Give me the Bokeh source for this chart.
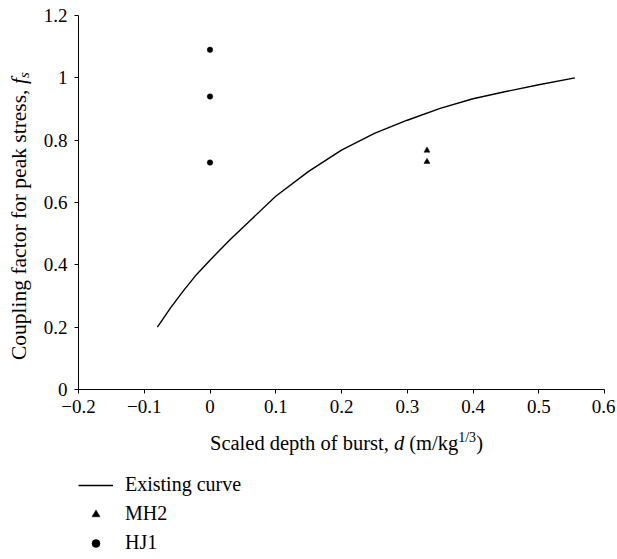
from bokeh.plotting import figure
from bokeh.models import Range1d, FixedTicker, Legend, LegendItem, Div
from bokeh.layouts import column, row
from bokeh.embed import file_html
from bokeh.resources import INLINE

# ---- data ----
curve_x = [-0.08, -0.06, -0.04, -0.02, 0.0, 0.03, 0.06, 0.1, 0.15, 0.2, 0.25,
           0.3, 0.35, 0.4, 0.45, 0.5, 0.555]
curve_y = [0.20, 0.262, 0.318, 0.37, 0.415, 0.48, 0.54, 0.62, 0.70, 0.768, 0.822,
           0.864, 0.902, 0.933, 0.956, 0.978, 1.0]
mh2_x = [0.33, 0.33]
mh2_y = [0.767, 0.731]
hj1_x = [0.0, 0.0, 0.0]
hj1_y = [1.09, 0.94, 0.728]
x_ticks = [-0.2, -0.1, 0.0, 0.1, 0.2, 0.3, 0.4, 0.5, 0.6]
x_tick_labels = ["\u22120.2", "\u22120.1", "0", "0.1", "0.2", "0.3", "0.4", "0.5", "0.6"]
y_ticks = [0.0, 0.2, 0.4, 0.6, 0.8, 1.0, 1.2]
y_tick_labels = ["0", "0.2", "0.4", "0.6", "0.8", "1", "1.2"]
legend_labels = ["Existing curve", "MH2", "HJ1"]
x_label_html = "Scaled depth of burst, <i>d</i> (m/kg<sup style='font-size:14px'>1/3</sup>)"
y_label_html = "Coupling factor for peak stress, <i>f<sub style='font-size:15px'>s</sub></i>"

FONT = "Liberation Serif"

YL_W = 38          # width of the rotated y-label column
P_W, P_H = 577, 420
ML, MR, MT, MB = 40, 11, 15, 31
XL_H = 40
LG_H = 97

p = figure(width=P_W, height=P_H, output_backend="svg", toolbar_location=None,
           x_range=Range1d(-0.2, 0.6), y_range=Range1d(0, 1.2),
           min_border_left=ML, min_border_right=MR, min_border_top=MT,
           min_border_bottom=MB)
p.outline_line_color = None
p.grid.visible = False
p.background_fill_color = "white"
p.border_fill_color = "white"

for ax in (p.xaxis[0], p.yaxis[0]):
    ax.axis_line_color = "black"
    ax.axis_line_width = 1
    ax.major_tick_line_color = "black"
    ax.major_tick_in = 0
    ax.major_tick_out = 4
    ax.minor_tick_line_color = None
    ax.major_label_text_font = FONT
    ax.major_label_text_font_size = "19px"
    ax.major_label_text_color = "black"

p.xaxis.ticker = FixedTicker(ticks=x_ticks)
p.yaxis.ticker = FixedTicker(ticks=y_ticks)
p.xaxis.major_label_overrides = {t: l for t, l in zip(x_ticks, x_tick_labels)}
p.yaxis.major_label_overrides = {t: l for t, l in zip(y_ticks, y_tick_labels)}
p.xaxis.major_label_standoff = 6
p.yaxis.major_label_standoff = 7

p.line(curve_x, curve_y, line_color="black", line_width=1.4)
p.scatter(mh2_x, mh2_y, marker="triangle", size=6, fill_color="black",
          line_color="black", line_width=0.5)
p.scatter(hj1_x, hj1_y, marker="circle", size=5.5, fill_color="black",
          line_color="black", line_width=0.5)

# rotated y-axis label (reads bottom to top)
ydiv = Div(
    text=("<div style=\"box-sizing:border-box; writing-mode: vertical-rl; "
          "transform: rotate(180deg); "
          f"width:{YL_W}px; height:{P_H}px; padding-top:60px; "
          f"line-height:{YL_W}px; text-align:start; "
          f"font-family:'{FONT}'; font-size:21.5px; color:black; white-space:nowrap;\">"
          f"{y_label_html}</div>"),
    width=YL_W, height=P_H, margin=0)

# x-axis label
xdiv = Div(
    text=(f"<div style=\"padding-left:210px; padding-top:6px; line-height:24px; "
          f"font-family:'{FONT}'; font-size:20.5px; color:black; white-space:nowrap;\">"
          f"{x_label_html}</div>"),
    width=YL_W + P_W, height=XL_H, margin=0)

# legend panel
lf = figure(width=YL_W + P_W, height=LG_H, output_backend="svg",
            toolbar_location=None, x_range=Range1d(0, 1), y_range=Range1d(0, 1),
            min_border=0)
lf.axis.visible = False
lf.grid.visible = False
lf.outline_line_color = None
lf.background_fill_color = "white"
lf.border_fill_color = "white"
# one off-range point each so that the legend has something to draw
l_line = lf.line(x=[-5, -4], y=[-5, -5], line_color="black", line_width=1.4)
l_tri = lf.scatter(x=[-5], y=[-5], marker="triangle", size=5, fill_color="black",
                   line_color="black", line_width=0.5)
l_circ = lf.scatter(x=[-5], y=[-5], marker="circle", size=5, fill_color="black",
                    line_color="black", line_width=0.5)
legend = Legend(items=[LegendItem(label=legend_labels[0], renderers=[l_line]),
                       LegendItem(label=legend_labels[1], renderers=[l_tri]),
                       LegendItem(label=legend_labels[2], renderers=[l_circ])],
                location=(78, 3), orientation="vertical")
legend.margin = 0
legend.padding = 0
legend.spacing = 6
legend.glyph_width = 35
legend.glyph_height = 20
legend.label_height = 20
legend.label_standoff = 12
legend.label_text_font = FONT
legend.label_text_font_size = "20px"
legend.label_text_color = "black"
legend.border_line_color = None
legend.background_fill_alpha = 0
lf.add_layout(legend)

layout = column(row(ydiv, p, spacing=0), xdiv, lf, spacing=0)

open("out.html", "w").write(file_html(layout, INLINE))
